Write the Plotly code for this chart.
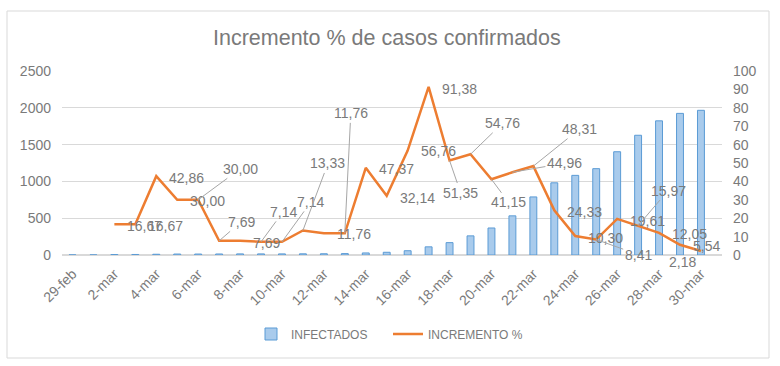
import plotly.graph_objects as go

# ---- data ----
categories = ["29-feb", "1-mar", "2-mar", "3-mar", "4-mar", "5-mar", "6-mar", "7-mar",
              "8-mar", "9-mar", "10-mar", "11-mar", "12-mar", "13-mar", "14-mar", "15-mar",
              "16-mar", "17-mar", "18-mar", "19-mar", "20-mar", "21-mar", "22-mar", "23-mar",
              "24-mar", "25-mar", "26-mar", "27-mar", "28-mar", "29-mar", "30-mar"]
infectados = [1, 1, 6, 7, 10, 13, 13, 14, 15, 15, 15, 16, 17, 19, 28, 37,
              58, 111, 168, 260, 367, 532, 789, 981, 1082, 1173, 1403, 1627, 1823, 1924, 1966]
incremento = [None, None, 16.67, 16.67, 42.86, 30.00, 30.00, 7.69, 7.69, 7.14, 7.14,
              13.33, 11.76, 11.76, 47.37, 32.14, 56.76, 91.38, 51.35, 54.76, 41.15,
              44.96, 48.31, 24.33, 10.30, 8.41, 19.61, 15.97, 12.05, 5.54, 2.18]
left_ticks = [0, 500, 1000, 1500, 2000, 2500]
right_ticks = [0, 10, 20, 30, 40, 50, 60, 70, 80, 90, 100]

# label placement (pixel offsets from the point; leader = draw leader line)
label_pos = {
    2: (11, 2, False), 3: (11, 2, False), 4: (11, 2, False), 5: (11, 1, False),
    6: (42, -31, True), 7: (22, -19, True), 8: (11, 2, False), 9: (22, -30, True),
    10: (29, -40, True), 11: (25, -67, True), 12: (11, 1, False), 13: (6, -120, True),
    14: (11, 1, False), 15: (11, 2, False), 16: (11, 0, False), 17: (11, 2, False),
    18: (11, 32, True), 19: (32, -31, True), 20: (17, 23, True), 21: (52, -9, True),
    22: (46, -37, True), 23: (11, 2, False), 24: (11, 2, False), 25: (42, 15, True),
    26: (11, 2, False), 27: (30, -35, True), 28: (11, 1, False), 29: (11, 1, False),
    30: (-18, 11, None),
}

GREY = "#7a7a7a"
FONT = "Liberation Sans"

fig = go.Figure()
fig.add_trace(go.Bar(
    x=categories, y=infectados, name="INFECTADOS", width=0.33,
    marker=dict(color="#A9CBEC", line=dict(color="#5B9BD5", width=1)),
))
fig.add_trace(go.Scatter(
    x=categories, y=incremento, name="INCREMENTO %", yaxis="y2", mode="lines",
    line=dict(color="#ED7D31", width=2.5), connectgaps=False,
))

annotations = []
for i, v in enumerate(incremento):
    if v is None:
        continue
    dx, dy, leader = label_pos[i]
    txt = f"{v:.2f}".replace(".", ",")
    base = dict(x=categories[i], y=v, xref="x", yref="y2", text=txt,
                font=dict(family=FONT, size=14, color=GREY))
    if leader:
        base.update(showarrow=True, ax=dx, ay=dy, arrowhead=0, arrowwidth=1,
                    arrowcolor="#A6A6A6", standoff=0)
    elif leader is False:
        base.update(showarrow=False, xanchor="left", xshift=dx, yshift=-dy)
    else:
        base.update(showarrow=False, xshift=dx, yshift=-dy)
    annotations.append(base)

fig.update_layout(
    width=780, height=366,
    margin=dict(l=62, r=58, t=71, b=111),
    paper_bgcolor="white", plot_bgcolor="white",
    font=dict(family=FONT, color=GREY),
    title=dict(text="Incremento % de casos confirmados", x=0.496, xanchor="center",
               y=1 - 37 / 366, yanchor="middle",
               font=dict(family=FONT, size=21.5, color=GREY)),
    showlegend=True,
    legend=dict(orientation="h", x=251 / 780, xanchor="left", xref="container",
                y=1 - 334 / 366, yanchor="middle", yref="container",
                entrywidth=92, entrywidthmode="pixels",
                font=dict(family=FONT, size=12, color=GREY), traceorder="normal"),
    xaxis=dict(type="category", tickangle=-45, tickvals=categories[::2],
               tickfont=dict(family=FONT, size=14, color=GREY),
               showgrid=False, showline=False, ticks="", zeroline=False,
               ticklabelstandoff=7),
    yaxis=dict(range=[0, 2500], tickvals=left_ticks, showgrid=True, gridcolor="#D9D9D9",
               gridwidth=1, zeroline=True, zerolinecolor="#D9D9D9",
               tickfont=dict(family=FONT, size=14, color=GREY), ticklabelstandoff=10),
    yaxis2=dict(range=[0, 100], tickvals=right_ticks, overlaying="y", side="right",
                showgrid=False, zeroline=False,
                tickfont=dict(family=FONT, size=14, color=GREY), ticklabelstandoff=10),
    annotations=annotations,
    shapes=[dict(type="rect", xref="paper", yref="paper",
                 x0=(7 - 62) / 660, x1=(769 - 62) / 660,
                 y0=(255 - 358) / 184, y1=(255 - 11) / 184,
                 line=dict(color="#D9D9D9", width=1), fillcolor="rgba(0,0,0,0)",
                 layer="below")],
)

fig.write_html("out.html", config={"displayModeBar": False},
               post_script="document.body.style.margin='0';")
